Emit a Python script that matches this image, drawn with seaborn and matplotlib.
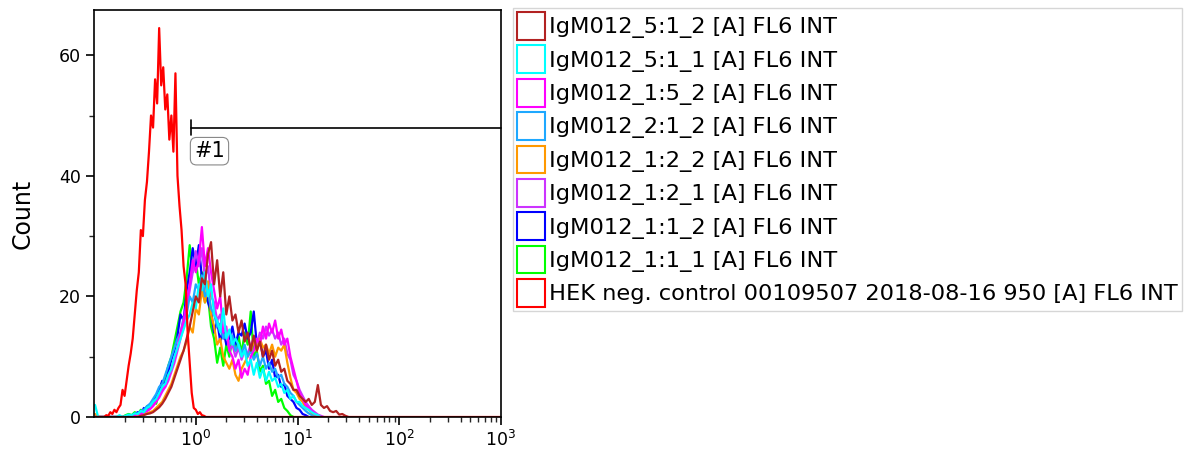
import numpy as np
import pandas as pd
import matplotlib
matplotlib.use("Agg")
import matplotlib.pyplot as plt
import matplotlib.patches as mpatches
from matplotlib.ticker import LogLocator, NullFormatter, FixedLocator
import seaborn as sns

# ---- histogram data (counts per FL6 INT channel, log10 channel grid) ----
# HEK negative control: channels from 10^-1.00 in steps of 0.02 decades
HEK_LOG_START, HEK_LOG_STEP = -1.00, 0.02
hek_counts = [0, 0, 0, 0, 0, 0, 0.3, 0.2, 0.8, 0.5, 1.2, 0.8, 1.5, 2.0,
              4.5, 3.5, 6, 8.5, 10.5, 13, 17, 21, 24, 31, 30, 36, 39, 44, 50, 48,
              56, 52, 64.5, 55, 58, 51, 53.5, 46, 50, 44, 57, 40, 35, 31, 25, 22,
              14, 9, 4, 1.5, 1.2, 0.5, 0.8, 0.3, 0.2, 0]

# IgM012 samples: channels from 10^-0.99 in steps of 0.03 decades
SAMPLE_LOG_START, SAMPLE_LOG_STEP = -0.99, 0.03
igm_1_1_1 = [0, 0, 0, 0, 0, 0,
             0, 0, 0, 0, 0.3, 0.5, 0.3, 0.8, 0.5, 1.2, 0.8, 1.8, 1.5, 2.8, 2.2,
             4.0, 5.5, 6.5, 8.5, 10, 12.5, 15, 17.5, 19, 23,
             28.5, 24, 26, 22, 24, 19, 20, 15,
             13, 9, 11.5, 8.5, 12, 10, 13, 11, 13.5, 10.5, 14, 12, 17.5, 10, 11,
             7.5, 8.5, 5.5, 6, 3.5, 4.5, 2.5, 3, 1.5, 1.0, 0.3, 0]
igm_1_1_2 = [0, 0, 0, 0, 0, 0,
             0, 0, 0, 0, 0,
             0.3, 0.2, 0.5, 0.8, 0.5, 1.5, 1.2, 2.0, 2.5, 3.5,
             4.5, 6, 5.5, 7.5, 9.5, 11, 13.5, 17, 16, 21,
             24, 28, 25, 28.5, 23, 24, 19, 17.5, 14, 16,
             12.5, 14.5, 12, 13, 15, 12, 14, 13.5, 15.5, 13,
             14, 17.5, 12, 13, 10, 11, 8, 9.5, 6.5, 7,
             5, 5.5, 3.5, 3, 2.5, 1.5, 1.2, 0.5, 0.3, 0]
igm_5_1_1 = [2.0, 0, 0, 0, 0, 0,
             0, 0, 0.3, 0, 0.2, 0.4, 0.3, 0.6, 0.5, 1.0,
             0.8, 1.5, 1.8, 2.5, 3, 4, 5, 5.5, 7, 8,
             10, 11.5, 13, 14.5, 16, 17, 19, 18, 22, 21,
             24, 20, 22, 17, 16, 14, 18, 13, 14.5, 12, 13,
             12, 10, 11, 8.5, 9.5, 7, 9, 6.5, 8, 6,
             7.5, 6, 6.5, 5, 5.5, 4, 4.5, 3, 3.5, 2.5,
             2.5, 1.8, 1.5, 1.2, 0.8, 0.5, 0.3, 0]
igm_1_5_2 = [0, 0, 0, 0, 0, 0,
             0, 0, 0, 0, 0, 0, 0,
             0.3, 0.5, 0.3, 0.8, 1.0, 1.3, 1.8, 2.5, 3.5, 4.5,
             5, 6.5, 8, 9.5, 11.5, 14, 16, 19, 22, 26,
             24, 26, 31.5, 25, 28, 24,
             21, 18, 20, 14, 15, 11, 10, 8, 9.5, 6.5, 8, 7,
             10, 11, 13, 12, 15, 13, 15.5, 14, 16, 13, 14.5, 12, 13, 10,
             8, 6, 4, 3, 2, 1.5, 1, 0.5, 0.2, 0]
igm_1_2_2 = [0.5, 0, 0, 0, 0, 0,
             0, 0, 0, 0, 0, 0, 0, 0,
             0.2, 0.3, 0.5, 0.6, 0.8, 1.0, 1.5, 2, 2.5, 3.5,
             4.5, 5.5, 7, 8.5, 10, 11, 12.5, 15, 14, 18,
             17, 21, 19, 22.5, 17, 15, 12, 13, 10, 9,
             8, 9.5, 7, 6, 8, 9, 10, 11, 12.5, 11,
             13, 11.5, 12, 10.5, 12, 10, 11.5, 11, 12, 9,
             6.5, 4.5, 4, 3, 2.5, 1.5, 1.2, 0.6, 0.3, 0]
igm_2_1_2 = [0, 0, 0, 0, 0, 0,
             0, 0, 0, 0, 0, 0,
             0.3, 0.5, 0.6, 1.0, 1.2, 1.8, 2.2, 3, 3.8, 5,
             5.5, 7, 8.5, 10, 11.5, 13, 14, 16.5, 17, 20,
             19, 22, 21, 23.5, 20, 21, 18, 17, 15, 15.5,
             13, 14, 12, 13.5, 11, 12, 10.5, 12, 10, 11,
             9.5, 10.5, 8.5, 10, 8, 9, 7.5, 8, 6.5, 7,
             5.5, 5, 4, 3.5, 2.5, 2, 1.5, 1, 0.6, 0.3, 0]
igm_1_2_1 = [0, 0, 0, 0, 0, 0,
             0, 0, 0, 0, 0, 0, 0,
             0.2, 0.4, 0.6, 0.7, 1.0, 1.4, 2.0, 2.6, 3.2, 4.2,
             5, 6, 7.5, 9, 11, 13, 15, 18, 21, 24,
             27.5, 25, 28, 23, 25, 20, 19, 16, 17, 13,
             14, 11, 12, 10, 11.5, 9.5, 11, 10.5, 12, 13,
             12, 14, 13, 15, 13.5, 14.5, 13, 14, 12, 13,
             10.5, 9.5, 7, 6, 4.5, 3.5, 2.5, 1.8, 1.2, 0.8, 0.4, 0.2, 0]
igm_5_1_2 = [0, 0, 0, 0, 0, 0,
             0, 0, 0, 0, 0, 0, 0, 0, 0,
             0.2, 0.3, 0.5, 0.6, 0.8, 1.2, 1.6, 2.2, 3, 4,
             5, 6.5, 8, 9.5, 11, 13, 15, 17.5, 20, 19,
             23, 22, 27, 29, 22, 26, 20, 24, 17, 20, 16,
             17, 14, 16, 12.5, 14, 11, 13.5, 11, 12.5, 10,
             12, 9.5, 11, 8.5, 9.5, 7.5, 8, 6, 5.5, 4.5,
             4.5, 3.5, 3, 2.5, 3, 2, 2.5, 5.3, 2, 1.5,
             1.8, 1.0, 0.8, 1.0, 0.4, 0.5, 0.2, 0]

HEK_LABEL = "HEK neg. control 00109507 2018-08-16 950 [A] FL6 INT"
sample_labels = [
    "IgM012_5:1_2 [A] FL6 INT",
    "IgM012_5:1_1 [A] FL6 INT",
    "IgM012_1:5_2 [A] FL6 INT",
    "IgM012_2:1_2 [A] FL6 INT",
    "IgM012_1:2_2 [A] FL6 INT",
    "IgM012_1:2_1 [A] FL6 INT",
    "IgM012_1:1_2 [A] FL6 INT",
    "IgM012_1:1_1 [A] FL6 INT",
]
sample_counts = [igm_5_1_2, igm_5_1_1, igm_1_5_2, igm_2_1_2,
                 igm_1_2_2, igm_1_2_1, igm_1_1_2, igm_1_1_1]
sample_colors = ["#B22222", "#00FFFF", "#FF00FF", "#1EA8FF",
                 "#FF9900", "#CC33FF", "#0000FF", "#00FF00"]
HEK_COLOR = "#FF0000"

# gate #1 marker
GATE_START, GATE_LEVEL = 0.89, 48
X_MIN, X_MAX = 0.1, 1000
Y_MAX = 67.5

# ---- long-form table ----
frames = []
for label, counts in zip(sample_labels, sample_counts):
    counts = np.asarray(counts, dtype=float)
    chan = 10 ** (SAMPLE_LOG_START + SAMPLE_LOG_STEP * np.arange(len(counts)))
    frames.append(pd.DataFrame({"FL6 INT": chan, "Count": counts, "sample": label}))
hek = np.asarray(hek_counts, dtype=float)
hek_chan = 10 ** (HEK_LOG_START + HEK_LOG_STEP * np.arange(len(hek)))
# control has no events above the last listed channel
hek_chan = np.append(hek_chan, X_MAX)
hek = np.append(hek, 0)
frames.append(pd.DataFrame({"FL6 INT": hek_chan, "Count": hek, "sample": HEK_LABEL}))
df = pd.concat(frames, ignore_index=True)

palette = dict(zip(sample_labels, sample_colors))
palette[HEK_LABEL] = HEK_COLOR
# drawing order: last in the legend list first, control on top
draw_order = sample_labels[::-1] + [HEK_LABEL]

sns.set_style("ticks")
plt.rcParams["font.family"] = ["DejaVu Sans"]
plt.rcParams["axes.linewidth"] = 1.2
plt.rcParams["text.color"] = "black"
plt.rcParams["axes.labelcolor"] = "black"

fig = plt.figure(figsize=(11.92, 4.54), dpi=100)
ax = fig.add_axes([0.0789, 0.0815, 0.3414, 0.8965])
ax.set_xscale("log")

sns.lineplot(data=df, x="FL6 INT", y="Count", hue="sample", hue_order=draw_order,
             palette=palette, estimator=None, sort=True, legend=False,
             linewidth=1.6, ax=ax)

ax.set_xlim(X_MIN, X_MAX)
ax.set_ylim(0, Y_MAX)
for s in ax.spines.values():
    s.set_visible(True)
    s.set_color("black")
    s.set_linewidth(1.2)

ax.xaxis.set_major_locator(FixedLocator([1, 10, 100, 1000]))
ax.xaxis.set_minor_locator(LogLocator(base=10, subs=np.arange(2, 10)))
ax.xaxis.set_minor_formatter(NullFormatter())
ax.set_yticks([0, 20, 40, 60])
ax.set_yticks([10, 30, 50], minor=True)
ax.tick_params(axis="both", which="major", direction="out", length=6, width=1.2,
               labelsize=12.5, colors="black")
ax.tick_params(axis="both", which="minor", direction="out", length=3.5, width=1.0)
ax.set_xlabel("")
ax.set_ylabel("Count", fontsize=17, labelpad=17, color="black")

# gate #1
ax.plot([GATE_START, X_MAX], [GATE_LEVEL, GATE_LEVEL], color="black", lw=1.2,
        clip_on=False, zorder=5)
ax.plot([GATE_START, GATE_START], [GATE_LEVEL - 1.2, GATE_LEVEL + 1.2], color="black",
        lw=1.2, zorder=5)
ax.annotate("#1", xy=(GATE_START, GATE_LEVEL), xytext=(2.5, -17),
            textcoords="offset points", ha="left", va="center", fontsize=15,
            color="black",
            bbox=dict(boxstyle="round,pad=0.18,rounding_size=0.3", fc="white",
                      ec="#888888", lw=0.8), zorder=6)

# legend
handles = [mpatches.Patch(facecolor="white", edgecolor=c, linewidth=1.5)
           for c in sample_colors + [HEK_COLOR]]
labels = sample_labels + [HEK_LABEL]
leg = fig.legend(handles, labels, loc="upper left",
                 bbox_to_anchor=(513 / 1192, 1 - 8 / 454), borderaxespad=0,
                 fontsize=16.2, frameon=True, fancybox=False, labelcolor="black",
                 handlelength=1.24, handleheight=1.52, handletextpad=0.2,
                 labelspacing=0.25, borderpad=0.18)
leg.get_frame().set_edgecolor("#cccccc")
leg.get_frame().set_linewidth(1.0)

fig.savefig("out.png", dpi=100)
